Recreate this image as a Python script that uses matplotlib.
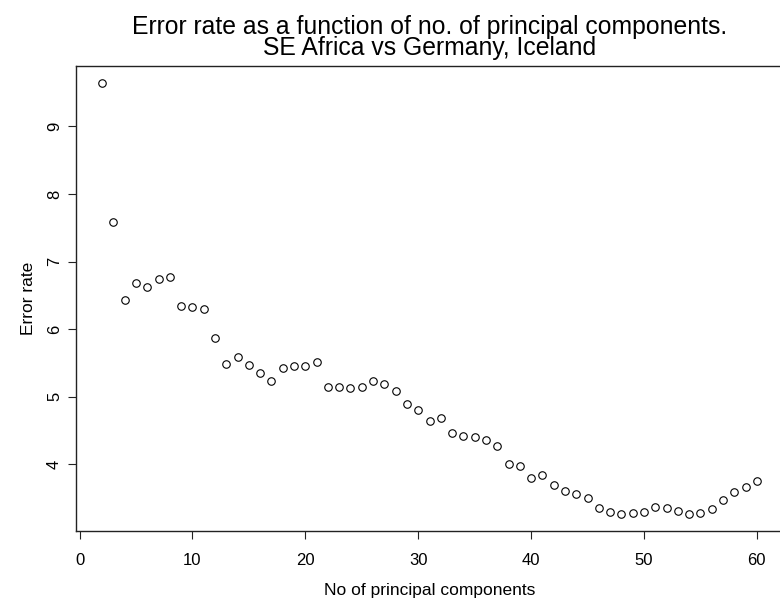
import matplotlib
matplotlib.use("Agg")
import matplotlib.pyplot as plt

plt.rcParams["font.family"] = ["Liberation Sans", "DejaVu Sans"]

# number of principal components used
n_components = list(range(2, 61))
# error rate
error_rate = [
    9.64, 7.59, 6.43, 6.69, 6.62, 6.75, 6.78, 6.34, 6.33, 6.30,
    5.87, 5.49, 5.59, 5.47, 5.36, 5.24, 5.43, 5.46, 5.46, 5.52,
    5.15, 5.15, 5.13, 5.15, 5.23, 5.19, 5.08, 4.89, 4.80, 4.65,
    4.68, 4.47, 4.42, 4.41, 4.36, 4.28, 4.01, 3.97, 3.80, 3.84,
    3.69, 3.61, 3.56, 3.50, 3.36, 3.30, 3.27, 3.28, 3.29, 3.37,
    3.35, 3.31, 3.27, 3.28, 3.34, 3.47, 3.59, 3.67, 3.75,
]
x_ticks = [0, 10, 20, 30, 40, 50, 60]
y_ticks = [4, 5, 6, 7, 8, 9]

W, H = 780, 601
fig = plt.figure(figsize=(W / 100, H / 100), dpi=100)
ax = fig.add_axes([76 / W, 70 / H, 707 / W, 465 / H])

ax.plot(n_components, error_rate, linestyle="none", marker="o",
        markersize=5.4, markerfacecolor="none", markeredgecolor="black",
        markeredgewidth=0.8)

# R-style 4% padding
x_lo, x_hi = min(n_components), max(n_components)
y_lo, y_hi = min(error_rate), max(error_rate)
ax.set_xlim(x_lo - 0.04 * (x_hi - x_lo), x_hi + 0.04 * (x_hi - x_lo))
ax.set_ylim(y_lo - 0.04 * (y_hi - y_lo), y_hi + 0.04 * (y_hi - y_lo))
ax.set_xticks(x_ticks)
ax.set_yticks(y_ticks)

for s in ax.spines.values():
    s.set_linewidth(1.0)
    s.set_color("#222222")
ax.tick_params(axis="both", direction="out", length=6, width=0.8,
               color="#222222", labelsize=12)
ax.tick_params(axis="x", pad=10)
ax.tick_params(axis="y", pad=4, labelrotation=90)
for lab in ax.get_yticklabels():
    lab.set_va("center")

ax.set_xlabel("No of principal components", fontsize=12.5, labelpad=11)
ax.set_ylabel("Error rate", fontsize=12.5, labelpad=8)
ax.set_title("Error rate as a function of no. of principal components.\n"
             "SE Africa vs Germany, Iceland", fontsize=17.8, pad=8,
             linespacing=0.86)

fig.savefig("out.png", dpi=100)
